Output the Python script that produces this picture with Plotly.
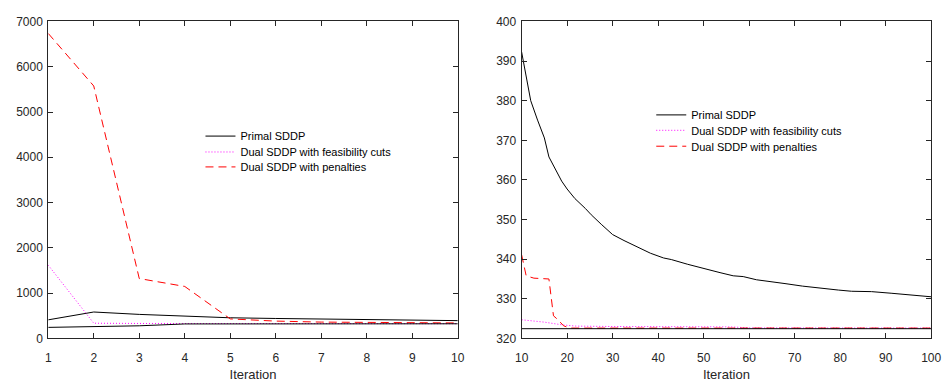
import plotly.graph_objects as go

# ---- Left panel (iterations 1..10) ----
it_left = [1, 2, 3, 4, 5, 6, 7, 8, 9, 10]
primal_upper_left = [410, 583, 530, 490, 455, 440, 425, 410, 400, 392]
primal_lower_left = [243, 257, 278, 319, 321, 322, 322.2, 322.3, 322.4, 322.4]
feas_left = [1617, 335, 330, 327, 325, 325, 325, 325, 325, 324.7]
pen_left = [6735, 5575, 1322, 1147, 430, 382, 360, 350, 345, 341]

# ---- Right panel (iterations 10..100) ----
it_up_right = [10, 11, 12, 13.5, 15, 16, 17.4, 18.8, 20, 21.7, 24, 25.3, 27.5, 30, 32.5,
               35.4, 38.3, 41.2, 42.9, 46.5, 50, 53.6, 56.5, 58.7, 61.6, 65.2, 68.1,
               71.7, 75.3, 79.6, 82.5, 86.9, 91.2, 95.5, 100]
primal_upper_right = [392.3, 385.6, 380.0, 375.1, 370.6, 365.8, 362.9, 359.7, 357.7, 355.3,
                      352.8, 351.2, 348.8, 346.2, 344.7, 343.1, 341.5, 340.3, 339.9, 338.7,
                      337.6, 336.6, 335.8, 335.6, 334.8, 334.3, 333.8, 333.2, 332.7, 332.2,
                      331.9, 331.8, 331.4, 330.9, 330.5]
it_low_right = [10, 100]
primal_lower_right = [322.45, 322.45]
it_feas_right = [10, 15, 19, 22, 30, 40, 50, 56, 60, 100]
feas_right = [324.7, 324.1, 323.4, 323.1, 323.0, 323.0, 323.0, 322.9, 322.65, 322.6]
it_pen_right = [10, 11, 12.7, 16, 17, 18, 19.2, 20.3, 21, 100]
pen_right = [341.1, 335.8, 335.2, 335.0, 325.7, 324.7, 323.2, 322.7, 322.6, 322.6]

NAMES = ["Primal SDDP", "Dual SDDP with feasibility cuts", "Dual SDDP with penalties"]
BLACK = "#000000"
MAGENTA = "#FF00FF"
RED = "#FF0000"
DOT = "1px,2px"
DASH = "8px,5px"

fig = go.Figure()

def add_panel(xref, yref, legs, xu, yu, xl, yl, xf, yf, xp, yp):
    fig.add_trace(go.Scatter(x=xu, y=yu, mode="lines", name=NAMES[0], legend=legs[0],
                             legendgroup=legs[0], line=dict(color=BLACK, width=1),
                             xaxis=xref, yaxis=yref))
    fig.add_trace(go.Scatter(x=xf, y=yf, mode="lines", name=NAMES[1], legend=legs[1],
                             legendgroup=legs[1], line=dict(color=MAGENTA, width=1, dash=DOT),
                             xaxis=xref, yaxis=yref))
    fig.add_trace(go.Scatter(x=xp, y=yp, mode="lines", name=NAMES[2], legend=legs[2],
                             legendgroup=legs[2], line=dict(color=RED, width=1, dash=DASH),
                             xaxis=xref, yaxis=yref))
    fig.add_trace(go.Scatter(x=xl, y=yl, mode="lines", name=NAMES[0], legend=legs[0],
                             legendgroup=legs[0], showlegend=False,
                             line=dict(color=BLACK, width=1), xaxis=xref, yaxis=yref))

add_panel("x", "y", ["legend", "legend2", "legend3"], it_left, primal_upper_left,
          it_left, primal_lower_left, it_left, feas_left, it_left, pen_left)
add_panel("x2", "y2", ["legend4", "legend5", "legend6"], it_up_right, primal_upper_right,
          it_low_right, primal_lower_right, it_feas_right, feas_right, it_pen_right, pen_right)

AX = "#262626"
FONT = "Liberation Sans, Arial, sans-serif"
common = dict(showline=True, linecolor=AX, linewidth=1, mirror="ticks", ticks="inside",
              ticklen=5, tickcolor=AX, showgrid=False, zeroline=False,
              tickfont=dict(family=FONT, size=12, color=AX))

W, H = 950, 382
ytop = 1 - 15 / H
ybot = 1 - 344 / H

def leg(xpx, ypx):
    return dict(x=xpx / W, y=1 - ypx / H, xanchor="left", yanchor="middle",
                bgcolor="rgba(0,0,0,0)", font=dict(family=FONT, size=11, color="#000"),
                itemwidth=30, borderwidth=0)

fig.update_layout(
    width=W, height=H, margin=dict(l=0, r=0, t=0, b=0),
    plot_bgcolor="white", paper_bgcolor="white",
    font=dict(family=FONT, color=AX),
    xaxis=dict(domain=[42 / W, 459 / W], range=[1, 10], dtick=1, anchor="y",
               ticklabelstandoff=8,
               title=dict(text="Iteration", font=dict(size=13, color=AX), standoff=6), **common),
    yaxis=dict(domain=[ybot, ytop], range=[0, 7000], dtick=1000, anchor="x",
               ticklabelstandoff=2, **common),
    xaxis2=dict(domain=[524 / W, 941 / W], range=[10, 100], dtick=10, anchor="y2",
                ticklabelstandoff=8,
                title=dict(text="Iteration", font=dict(size=13, color=AX), standoff=6), **common),
    yaxis2=dict(domain=[ybot, ytop], range=[320, 400], dtick=10, anchor="x2",
                ticklabelstandoff=2, **common),
    legend=leg(197, 134), legend2=leg(197, 150.5), legend3=leg(197, 166),
    legend4=leg(656, 112), legend5=leg(656, 128), legend6=leg(656, 144.5),
    showlegend=True,
)

fig.write_html("out.html")
